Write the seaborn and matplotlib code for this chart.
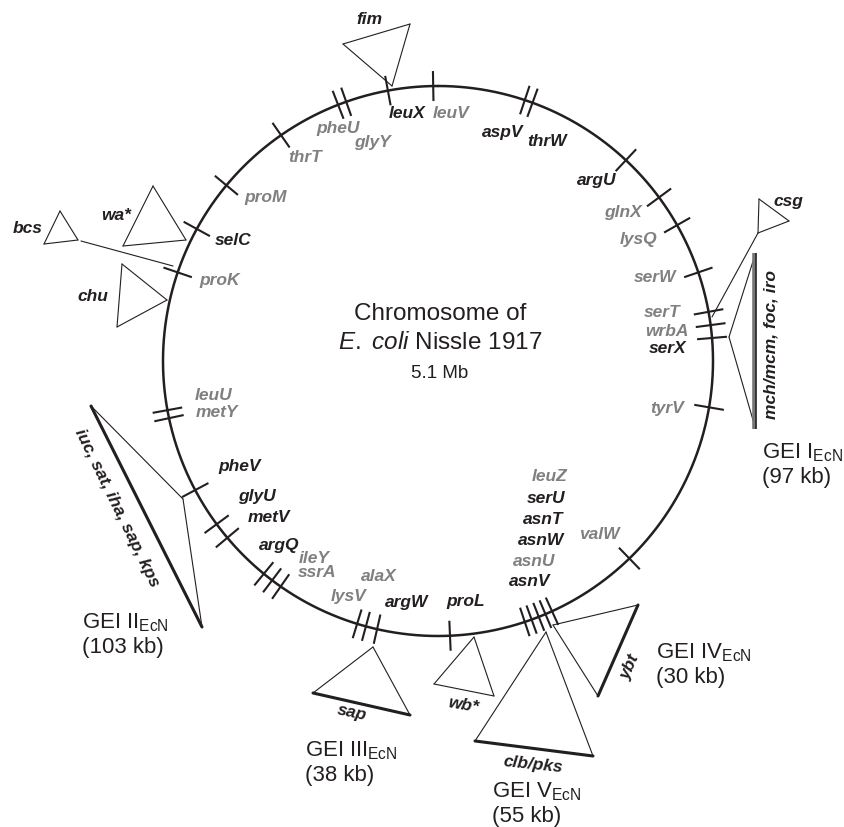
import numpy as np
import pandas as pd
import matplotlib
matplotlib.use("Agg")
import matplotlib.pyplot as plt
import seaborn as sns

# ---------------- data ----------------
genome_label = ["Chromosome of", r"$\mathit{E.\ coli}$ Nissle 1917", "5.1 Mb"]

# tRNA gene tick positions on the chromosome (degrees clockwise from top)
tick_angles = [325.2, 338.7, 340.5, 349.5, 359.0, 18.4, 20.1, 43.1, 53.5, 60.4,
               71.2, 79.7, 82.5, 85.2, 99.7, 135.9,
               155.5, 157.0, 158.5, 160.1, 161.6,
               177.5, 192.8, 195.2, 197.1, 214.9, 217.1, 219.3,
               230.0, 233.6, 242.0, 258.0, 259.7, 288.8, 298.7, 309.7]

trna_names = ["thrT", "pheU", "glyY", "leuX", "leuV", "aspV", "thrW", "argU", "glnX",
              "lysQ", "serW", "serT", "wrbA", "serX", "tyrV", "leuZ", "serU", "asnT",
              "asnW", "asnU", "asnV", "valW", "proL", "argW", "alaX", "lysV", "argQ",
              "ileY", "ssrA", "metV", "glyU", "pheV", "leuU", "metY", "proK", "selC", "proM"]
trna_gray = [1, 1, 1, 0, 1, 0, 0, 0, 1,
             1, 1, 1, 1, 0, 1, 1, 0, 0,
             0, 1, 0, 1, 0, 0, 1, 1, 0,
             1, 1, 0, 0, 0, 1, 1, 1, 0, 1]

island_names = ["GEI I", "GEI II", "GEI III", "GEI IV", "GEI V"]
island_roman = ["I", "II", "III", "IV", "V"]
island_kb = [97, 103, 38, 30, 55]
island_genes = ["mch/mcm, foc, iro", "iuc, sat, iha, sap, kps", "sap", "ybt", "clb/pks"]
other_islands = ["fim", "bcs", "wa*", "chu", "csg", "wb*"]

# ---------------- layout ----------------
CX, CY, R = 438.0, 362.0, 275.0
TICK_HALF = 15.0
BLACK = "#231f20"
GRAY = "#808080"

trna_label_pos = {
    "thrT": (305, 157, "center"), "pheU": (338, 129, "center"), "glyY": (372, 143, "center"),
    "leuX": (407, 114, "center"), "leuV": (451, 114, "center"), "aspV": (503, 133, "center"),
    "thrW": (547, 142, "center"), "argU": (597, 180, "center"), "glnX": (623, 213, "center"),
    "lysQ": (639, 240, "center"), "serW": (655, 278, "center"), "serT": (662, 313, "center"),
    "wrbA": (667, 332, "center"), "serX": (668, 349, "center"), "tyrV": (667, 409, "center"),
    "leuZ": (567, 477, "right"), "serU": (565, 499, "right"), "asnT": (563, 520, "right"),
    "asnW": (564, 541, "right"), "asnU": (555, 562, "right"), "asnV": (550, 582, "right"),
    "valW": (599, 535, "center"), "proL": (466, 602, "center"), "argW": (407, 603, "center"),
    "alaX": (379, 577, "center"), "lysV": (349, 597, "center"), "argQ": (279, 546, "center"),
    "ileY": (314, 559, "center"), "ssrA": (317, 573, "center"), "metV": (269, 518, "center"),
    "glyU": (257, 497, "center"), "pheV": (240, 467, "center"), "leuU": (214, 396, "center"),
    "metY": (217, 413, "center"), "proK": (220, 281, "center"), "selC": (233, 241, "center"),
    "proM": (266, 198, "center"),
}

# triangles: list of (vertices, index of thick edge or None)
triangles = {
    "fim": ([(343, 45), (410, 25), (392, 87)], None),
    "bcs": ([(60, 212), (44, 245), (78, 241)], None),
    "wa*": ([(153, 187), (123, 247), (186, 241)], None),
    "chu": ([(122, 265), (117, 328), (167, 301)], None),
    "csg": ([(759, 200), (758, 234), (789, 222)], None),
    "wb*": ([(474, 638), (434, 685), (494, 697)], None),
    "GEI II": ([(183, 500), (91, 407), (202, 628)], 1),
    "GEI III": ([(373, 648), (313, 694), (410, 716)], 1),
    "GEI IV": ([(553, 626), (638, 606), (598, 697)], 1),
    "GEI V": ([(546, 633), (475, 742), (593, 757)], 1),
}
extra_lines = [((81, 242), (173, 267)), ((758, 234), (712, 318)),
               ((755, 256), (729, 338)), ((729, 338), (755, 428))]

small_labels = {
    "fim": (369, 19, 0), "bcs": (28, 229, 0), "wa*": (116, 216, 0), "chu": (93, 297, 0),
    "csg": (788, 202, 0), "wb*": (463, 705, -10),
    "mch/mcm, foc, iro": (771, 345, 90), "iuc, sat, iha, sap, kps": (117, 508, -64),
    "sap": (352, 713, -12), "ybt": (630, 667, 66), "clb/pks": (533, 765, -6),
}
island_label_pos = {"GEI I": (762, 458), "GEI II": (82, 628), "GEI III": (305, 756),
                    "GEI IV": (656, 658), "GEI V": (492, 797)}

# ---------------- drawing ----------------
sns.set_theme(style="white")
plt.rcParams["font.family"] = ["Liberation Sans", "DejaVu Sans"]
plt.rcParams["mathtext.fontset"] = "custom"
plt.rcParams["mathtext.rm"] = "Liberation Sans"
plt.rcParams["mathtext.it"] = "Liberation Sans:italic"
plt.rcParams["mathtext.bf"] = "Liberation Sans:bold"

fig = plt.figure(figsize=(8.45, 8.28), dpi=100)
ax = fig.add_axes([0, 0, 1, 1])
ax.set_xlim(0, 845)
ax.set_ylim(828, 0)
ax.axis("off")


def polar(theta_deg, r):
    t = np.deg2rad(theta_deg)
    return CX + r * np.sin(t), CY - r * np.cos(t)


# chromosome circle
th = np.linspace(0, 360, 721)
cx, cy = polar(th, R)
circle_df = pd.DataFrame({"x": cx, "y": cy, "order": np.arange(len(th))})
sns.lineplot(data=circle_df, x="x", y="y", sort=False, estimator=None,
             color=BLACK, lw=1.8, ax=ax)

# tRNA ticks
for a in tick_angles:
    x0, y0 = polar(a, R - TICK_HALF)
    x1, y1 = polar(a, R + TICK_HALF)
    ax.plot([x0, x1], [y0, y1], color=BLACK, lw=1.5, solid_capstyle="butt")

# tRNA labels
for name, g in zip(trna_names, trna_gray):
    x, y, ha = trna_label_pos[name]
    ax.text(x, y, name, color=GRAY if g else BLACK, fontsize=12.5,
            fontweight="bold", fontstyle="italic", ha=ha, va="center")

# triangles
for key, (verts, thick) in triangles.items():
    n = len(verts)
    for i in range(n):
        p, q = verts[i], verts[(i + 1) % n]
        lw = 2.2 if (thick is not None and i == thick) else 0.8
        ax.plot([p[0], q[0]], [p[1], q[1]], color=BLACK, lw=lw,
                solid_capstyle="round")
for p, q in extra_lines:
    ax.plot([p[0], q[0]], [p[1], q[1]], color=BLACK, lw=0.8)
# GEI I bar
ax.plot([754, 754], [254, 430], color="#777777", lw=2.6, solid_capstyle="butt")
ax.plot([756, 756], [254, 430], color=BLACK, lw=1.2, solid_capstyle="butt")

# gene cluster labels
for txt, (x, y, rot) in small_labels.items():
    ax.text(x, y, txt, color=BLACK, fontsize=12.5, fontweight="bold",
            fontstyle="italic", ha="center", va="center", rotation=rot,
            rotation_mode="anchor")

# island labels
for name, roman, kb in zip(island_names, island_roman, island_kb):
    x, y = island_label_pos[name]
    ax.text(x, y, "GEI " + roman + r"$_{\mathrm{EcN}}$", color=BLACK, fontsize=16,
            ha="left", va="baseline")
    ax.text(x, y + 25, f"({kb} kb)", color=BLACK, fontsize=16,
            ha="left", va="baseline")

# centre text
ax.text(440, 320, genome_label[0], fontsize=17.5, color=BLACK, ha="center", va="baseline")
ax.text(440, 349, genome_label[1], fontsize=17.5, color=BLACK, ha="center", va="baseline")
ax.text(440, 378, genome_label[2], fontsize=13.5, color=BLACK, ha="center", va="baseline")

fig.savefig("out.png", dpi=100)
